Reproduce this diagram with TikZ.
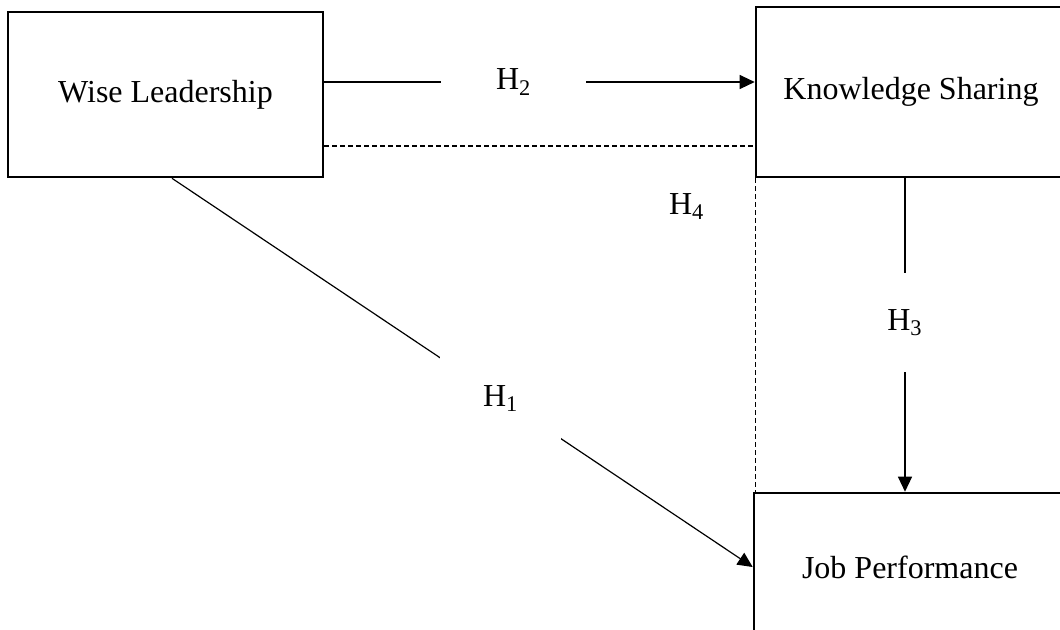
\documentclass[tikz,border=0pt]{standalone}
\usepackage{fontspec}
\setmainfont{Liberation Serif}
\usetikzlibrary{arrows.meta}
\begin{document}
\begin{tikzpicture}[>={Triangle[length=7.5pt,width=7pt]},x=0.5pt,y=-0.5pt,
		box/.style={draw,line width=1.3pt,inner sep=0pt,font=\fontsize{16}{19}\selectfont},
		link/.style={line width=0.6pt},
		dashlink/.style={line width=0.6pt,dash pattern=on 2.5pt off 1.5pt},
		hyp/.style={fill=white,inner sep=0pt,font=\fontsize{16}{19}\selectfont}]
		\useasboundingbox (0,0) rectangle (1060,629);
		\clip (0,0) rectangle (1060,629);
		\node[box,minimum width=157.5pt,minimum height=82.5pt] (wl) at (165.5,94.5) {Wise Leadership};
		\node[box,minimum width=155pt,minimum height=85pt] (ks) at (911,92) {Knowledge Sharing};
		\node[box,minimum width=156pt,minimum height=74pt] (jp) at (910,567) {Job Performance};
		\draw[link,->] ([yshift=6.25pt]wl.east) -- ([yshift=6.25pt]wl.east -| ks.west)
			node[hyp,pos=.44,inner xsep=27.5pt,inner ysep=2pt] (h2) {H\textsubscript{2}};
		\draw[dashlink] ([yshift=-25.75pt]wl.east) -- ([yshift=-25.75pt]wl.east -| ks.west);
		\draw[dashlink] ([xshift=0.5pt]ks.south west) -- ([xshift=0.5pt]ks.south west |- jp.north)
			node[hyp,pos=.09,xshift=-34.5pt,inner sep=2pt] (h4) {H\textsubscript{4}};
		\draw[link,->] ([xshift=-3pt]ks.south) -- ([xshift=-3pt]ks.south |- jp.north)
			node[hyp,pos=.46,inner xsep=2pt,inner ysep=18pt] (h3) {\raisebox{-3pt}{H\textsubscript{3}}};
		\draw[link,->] ([xshift=3.25pt]wl.south) -- (jp.west)
			node[hyp,pos=.566,inner xsep=21.5pt,inner ysep=16pt] (h1) {\raisebox{-3pt}{H\textsubscript{1}}};
\end{tikzpicture}
\end{document}
